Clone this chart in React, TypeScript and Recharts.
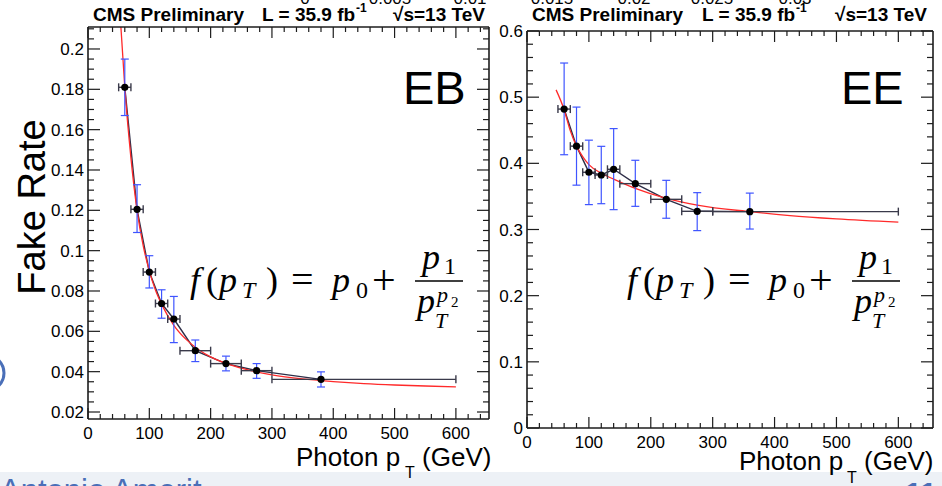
import React from "react";
import { ComposedChart, Line, Scatter, XAxis, YAxis, ErrorBar } from "recharts";

// EB (barrel) measured points
const ebPt = [60, 80, 100, 120, 140, 175, 225, 275, 380];
const ebPtLow = [50, 70, 90, 110, 130, 150, 200, 250, 300];
const ebPtHigh = [70, 90, 110, 130, 150, 200, 250, 300, 600];
const ebRate = [0.181, 0.1205, 0.0894, 0.0738, 0.0661, 0.0504, 0.044, 0.0405, 0.0362];
const ebRateLow = [0.167, 0.109, 0.0815, 0.0665, 0.0544, 0.045, 0.0404, 0.0367, 0.0324];
const ebRateHigh = [0.195, 0.1327, 0.0975, 0.0806, 0.0773, 0.0557, 0.0477, 0.044, 0.0399];

// EB fit curve
const ebFitPt = [53, 60, 70, 80, 90, 100, 110, 120, 140, 160, 180, 200, 250, 300, 350, 400, 450, 500, 550, 600];
const ebFitRate = [0.214, 0.181, 0.146, 0.12, 0.1025, 0.09, 0.0805, 0.0735, 0.063, 0.056, 0.051, 0.0473, 0.0417, 0.0384, 0.0364, 0.0351, 0.0341, 0.0334, 0.0329, 0.0325];

// EE (endcap) measured points
const eePt = [60, 80, 100, 120, 140, 175, 225, 275, 360];
const eePtLow = [50, 70, 90, 110, 130, 150, 200, 250, 300];
const eePtHigh = [70, 90, 110, 130, 150, 200, 250, 300, 600];
const eeRate = [0.482, 0.426, 0.3865, 0.3824, 0.391, 0.3693, 0.3456, 0.3275, 0.327];
const eeRateLow = [0.413, 0.367, 0.3376, 0.339, 0.33, 0.335, 0.317, 0.2983, 0.3007];
const eeRateHigh = [0.5516, 0.485, 0.435, 0.4257, 0.4525, 0.4046, 0.3743, 0.3557, 0.355];

// EE fit curve
const eeFitPt = [47, 60, 70, 80, 90, 100, 120, 140, 175, 225, 275, 360, 425, 500, 600];
const eeFitRate = [0.511, 0.481, 0.449, 0.426, 0.41, 0.398, 0.385, 0.376, 0.362, 0.347, 0.337, 0.327, 0.321, 0.316, 0.311];

// tick labels
const xTickLabels = [0, 100, 200, 300, 400, 500, 600];
const ebYTickLabels = [0.02, 0.04, 0.06, 0.08, 0.1, 0.12, 0.14, 0.16, 0.18, 0.2];
const eeYTickLabels = [0, 0.1, 0.2, 0.3, 0.4, 0.5, 0.6];
// labels of the slide above, cut by the top edge
const cutLabels = ["0", "0.005", "0.01", "0.015", "0.02", "0.025", "0.03"];

const W = 942;
const H = 486;
const SANS = "'Liberation Sans', Arial, Helvetica, sans-serif";
const SERIF = "'Liberation Serif', 'Times New Roman', serif";
const AX = "#1c1c1c";
const SLIDE_BLUE = "#4a6fb8";

const points = (pt: number[], lo: number[], hi: number[], r: number[], rlo: number[], rhi: number[]) =>
  pt.map((x, i) => ({
    pt: x,
    rate: r[i],
    ex: [x - lo[i], hi[i] - x],
    ey: [r[i] - rlo[i], rhi[i] - r[i]],
  }));

const fitData = (pt: number[], f: number[]) => pt.map((x, i) => ({ pt: x, fit: f[i] }));

const steps = (start: number, end: number, step: number) => {
  const out: number[] = [];
  for (let k = 0; start + k * step <= end + 1e-9; k++) out.push(+(start + k * step).toFixed(4));
  return out;
};

const inList = (list: number[]) => (v: number) => list.some((m) => Math.abs(m - v) < 1e-6);
const fmt = (v: number) => String(+v.toFixed(3));

function tickFn(side: string, major: (v: number) => boolean, labels: boolean, big: number, small: number) {
  return (p: any) => {
    const { x, y, payload } = p;
    const v = payload.value;
    const m = major(v);
    const len = m ? big : small;
    let line;
    if (side === "bottom") line = <line x1={x} y1={y} x2={x} y2={y - len} />;
    else if (side === "top") line = <line x1={x} y1={y} x2={x} y2={y + len} />;
    else if (side === "left") line = <line x1={x} y1={y} x2={x + len} y2={y} />;
    else line = <line x1={x} y1={y} x2={x - len} y2={y} />;
    let text = null;
    if (labels && m) {
      if (side === "bottom")
        text = (
          <text x={x} y={y + 20} textAnchor="middle" fontSize={17} fontFamily={SANS} fill="#000">
            {fmt(v)}
          </text>
        );
      else
        text = (
          <text x={x - 4} y={y + 6} textAnchor="end" fontSize={17} fontFamily={SANS} fill="#000">
            {fmt(v)}
          </text>
        );
    }
    return (
      <g>
        <g stroke={AX} strokeWidth={1.2}>{line}</g>
        {text}
      </g>
    );
  };
}

const dot = (p: any) => <circle cx={p.cx} cy={p.cy} r={3.6} fill="#000" />;

function Panel({ plot, xDomain, yDomain, yLabels, yStep, data, fit }: any) {
  const xTicks = steps(0, xDomain[1], 20);
  const yTicks = steps(Math.ceil(yDomain[0] / yStep - 1e-9) * yStep, yDomain[1], yStep);
  const xMajor = inList(xTickLabels);
  const yMajor = inList(yLabels);
  const frame = { stroke: AX, strokeWidth: 1.6 };
  const common = { type: "number" as const, allowDataOverflow: true, interval: 0, tickSize: 0, tickMargin: 0, tickLine: false, axisLine: frame };
  return (
    <div style={{ position: "absolute", left: 0, top: 0 }}>
      <ComposedChart
        width={W}
        height={H}
        margin={{ top: plot.t - 1, left: plot.l - 1, right: W - plot.r - 1, bottom: H - plot.b - 1 }}
      >
        <XAxis xAxisId="b" dataKey="pt" domain={xDomain} ticks={xTicks} height={1} tick={tickFn("bottom", xMajor, true, 11, 5)} {...common} />
        <XAxis xAxisId="t" orientation="top" dataKey="pt" domain={xDomain} ticks={xTicks} height={1} tick={tickFn("top", xMajor, false, 11, 5)} {...common} />
        <YAxis yAxisId="l" domain={yDomain} ticks={yTicks} width={1} tick={tickFn("left", yMajor, true, 12, 6)} {...common} />
        <YAxis yAxisId="r" orientation="right" domain={yDomain} ticks={yTicks} width={1} tick={tickFn("right", yMajor, false, 12, 6)} {...common} />
        <Line xAxisId="b" yAxisId="l" data={data} dataKey="rate" type="linear" stroke="#2e2e48" strokeWidth={1.4} dot={false} isAnimationActive={false} />
        <Line xAxisId="b" yAxisId="l" data={fit} dataKey="fit" type="monotone" stroke="#ff2a2a" strokeWidth={1.3} dot={false} isAnimationActive={false} />
        <Scatter xAxisId="b" yAxisId="l" data={data} dataKey="rate" shape={dot} isAnimationActive={false}>
          <ErrorBar dataKey="ex" direction="x" width={4} stroke="#3a3a4a" strokeWidth={1.4} isAnimationActive={false} />
          <ErrorBar dataKey="ey" direction="y" width={4} stroke="#3f55ff" strokeWidth={1.2} isAnimationActive={false} />
        </Scatter>
      </ComposedChart>
    </div>
  );
}

function Formula({ x0, y0 }: { x0: number; y0: number }) {
  const it = { fontFamily: SERIF, fontStyle: "italic", fill: "#000" };
  const up = { fontFamily: SERIF, fill: "#000" };
  return (
    <g transform={`translate(${x0},${y0})`}>
      <text x={0} y={0} fontSize={36} {...it}>f</text>
      <text x={16} y={0} fontSize={36} {...up}>(</text>
      <text x={29} y={0} fontSize={36} {...it}>p</text>
      <text x={52} y={6} fontSize={24} {...it}>T</text>
      <text x={76} y={0} fontSize={36} {...up}>)</text>
      <text x={101} y={1} fontSize={40} {...up}>=</text>
      <text x={142} y={0} fontSize={36} {...it}>p</text>
      <text x={166} y={6} fontSize={24} {...up}>0</text>
      <text x={182} y={2} fontSize={42} {...up}>+</text>
      <text x={232} y={-23} fontSize={36} {...it}>p</text>
      <text x={254} y={-18} fontSize={24} {...up}>1</text>
      <line x1={225} x2={273} y1={-11} y2={-11} stroke="#000" strokeWidth={1.6} />
      <text x={227} y={21} fontSize={36} {...it}>p</text>
      <text x={245} y={36} fontSize={22} {...it}>T</text>
      <text x={247} y={10} fontSize={22} {...it}>p</text>
      <text x={261} y={15} fontSize={15} {...up}>2</text>
    </g>
  );
}

function Header({ x, lx, sx }: { x: number; lx: number; sx: number }) {
  const b = { fontFamily: SANS, fontWeight: 700, fontSize: 19, fill: "#000" };
  return (
    <g>
      <text x={x} y={21} {...b}>CMS Preliminary</text>
      <text x={lx} y={21} {...b}>L = 35.9 fb</text>
      <text x={lx + 94} y={12} {...b} fontSize={12}>-1</text>
      <text x={sx} y={21} {...b}>√s=13 TeV</text>
    </g>
  );
}

export default function App() {
  const ebData = points(ebPt, ebPtLow, ebPtHigh, ebRate, ebRateLow, ebRateHigh);
  const eeData = points(eePt, eePtLow, eePtHigh, eeRate, eeRateLow, eeRateHigh);
  const sans = { fontFamily: SANS, fill: "#000" };
  const cutX = [305, 390, 470, 552, 634, 712, 795];
  return (
    <div style={{ position: "absolute", left: 0, top: 0, width: W, height: H, background: "#fff", overflow: "hidden" }}>
      <svg width={W} height={H} style={{ position: "absolute", left: 0, top: 0 }}>
        <rect x={0} y={472} width={W} height={14} fill="#edf1f6" />
        <circle cx={-14} cy={373} r={18} fill="none" stroke={SLIDE_BLUE} strokeWidth={3} />
        {/* slide footer, mostly below the bottom edge */}
        <text x={0} y={501} fontSize={31} fontFamily={SANS} fill={SLIDE_BLUE}>Antonio Amerit</text>
        <text x={905} y={503} fontSize={30} fontFamily={SANS} fontWeight={700} fill={SLIDE_BLUE}>11</text>
      </svg>

      <Panel
        plot={{ l: 88, r: 489, t: 27, b: 419 }}
        xDomain={[0, 654]}
        yDomain={[0.01653, 0.2109]}
        yLabels={ebYTickLabels}
        yStep={0.005}
        data={ebData}
        fit={fitData(ebFitPt, ebFitRate)}
      />
      <Panel
        plot={{ l: 527, r: 933, t: 31, b: 428 }}
        xDomain={[0, 656]}
        yDomain={[0, 0.6]}
        yLabels={eeYTickLabels}
        yStep={0.02}
        data={eeData}
        fit={fitData(eeFitPt, eeFitRate)}
      />

      <svg width={W} height={H} style={{ position: "absolute", left: 0, top: 0 }}>
        {cutLabels.map((t, i) => (
          <text key={t} x={cutX[i]} y={4} fontSize={17} textAnchor="middle" {...sans}>
            {t}
          </text>
        ))}
        <Header x={93} lx={262} sx={393} />
        <Header x={532} lx={702} sx={835} />

        <text x={403} y={104} fontSize={47} {...sans}>EB</text>
        <text x={841} y={104} fontSize={47} {...sans}>EE</text>

        <text x={45} y={207} fontSize={38} textAnchor="middle" transform="rotate(-90 45 207)" {...sans}>
          Fake Rate
        </text>

        <Formula x0={190} y0={292} />
        <Formula x0={627} y0={292} />

        <text x={296} y={466} fontSize={26} {...sans}>
          Photon p<tspan fontSize={16} dx={5} dy={12}>T</tspan>
          <tspan dy={-12}> (GeV)</tspan>
        </text>
        <text x={739} y={470} fontSize={26} {...sans}>
          Photon p<tspan fontSize={16} dx={4} dy={13}>T</tspan>
          <tspan dy={-13}> (GeV)</tspan>
        </text>
      </svg>
    </div>
  );
}
